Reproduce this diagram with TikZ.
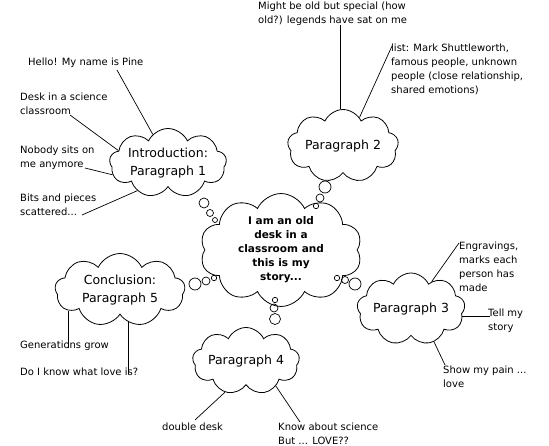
\documentclass[tikz,border=0pt]{standalone}
\usepackage{fontspec}
\setmainfont{DejaVu Sans}
\usetikzlibrary{shapes.symbols}
\begin{document}
\begin{tikzpicture}[x=1pt,y=-1pt,
  thought/.style={cloud, draw, cloud puffs=9, cloud puff arc=130, cloud ignores aspect, inner sep=0pt, align=center, line width=0.8pt, font=\fontsize{12.5}{17.5}\selectfont},
  note/.style={anchor=north west, inner sep=0pt, align=left, font=\fontsize{10}{14}\selectfont},
  link/.style={line width=0.7pt},
  bub/.style={line width=0.7pt}]
\useasboundingbox (0,0) rectangle (549,446);
% clouds
\node[thought, minimum width=117pt, minimum height=69pt] (intro) at (168,163) {Introduction:\\Paragraph 1};
\node[thought, minimum width=111pt, minimum height=73pt] (p2) at (343,146) {Paragraph 2};
\node[thought, cloud puffs=10, minimum width=162pt, minimum height=94pt, font=\bfseries\fontsize{10.5}{14}\selectfont] (center) at (281,250) {I am an old\\desk in a\\classroom and\\this is my\\story...};
\node[thought, minimum width=130pt, minimum height=73pt] (concl) at (120,290) {Conclusion:\\Paragraph 5};
\node[thought, minimum width=107pt, minimum height=67pt] (p4) at (246,361) {Paragraph 4};
\node[thought, minimum width=108pt, minimum height=72pt] (p3) at (411,309) {Paragraph 3};
% notes
\node[note] (might) at (258,2) {Might be old but special (how\\old?) legends have sat on me};
\node[note] (list) at (391,44) {list: Mark Shuttleworth,\\famous people, unknown\\people (close relationship,\\shared emotions)};
\node[note] (hello) at (28,58) {Hello! My name is Pine};
\node[note] (desk) at (20,93) {Desk in a science\\classroom};
\node[note] (nobody) at (20,146) {Nobody sits on\\me anymore};
\node[note] (bits) at (20,194) {Bits and pieces\\scattered...};
\node[note] (gen) at (20,341) {Generations grow};
\node[note] (doi) at (20,368) {Do I know what love is?};
\node[note] (double) at (162,423) {double desk};
\node[note] (know) at (278,423) {Know about science\\But ... LOVE??};
\node[note] (engr) at (459,242) {Engravings,\\marks each\\person has\\made};
\node[note] (tell) at (488,309) {Tell my\\story};
\node[note] (show) at (443,366) {Show my pain ...\\love};
% connector ends
\coordinate (m1) at (340,25);
\coordinate (l1) at (392,46);
\coordinate (h1) at (117,70);
\coordinate (de1) at (70,115);
\coordinate (n1) at (85,168);
\coordinate (b1) at (82,215);
\coordinate (g1) at (68,348);
\coordinate (d1) at (128,374);
\coordinate (dd1) at (195,420);
\coordinate (k1) at (300,422);
\coordinate (e1) at (459,243);
\coordinate (t1) at (490,316);
\coordinate (s1) at (445,365);
% connectors
\draw[link] (m1) -- (m1 |- p2.95);
\draw[link] (l1) -- (p2.60);
\draw[link] (h1) -- (intro.118);
\draw[link] (de1) -- (intro.166);
\draw[link] (n1) -- (intro.192);
\draw[link] (b1) -- (intro.222);
\draw[link] (g1) -- (g1 |- concl.208);
\draw[link] (d1) -- (d1 |- concl.283);
\draw[link] (dd1) -- (p4.236);
\draw[link] (k1) -- (p4.320);
\draw[link] (e1) -- (p3.53);
\draw[link] (t1) -- (p3.352 |- t1);
\draw[link] (s1) -- (p3.305);
% thought bubbles
\draw[bub] (204,203) circle (5pt) (210,213) circle (3.5pt) (215,220) circle (2.5pt);
\draw[bub] (325,187) circle (6pt) (320,198) circle (4pt) (316,206) circle (2.7pt);
\draw[bub] (195,284) circle (6pt) (206,281) circle (4pt) (214,278) circle (2.7pt);
\draw[bub] (337,278) circle (2.7pt) (345,280) circle (3.5pt) (355,284) circle (6pt);
\draw[bub] (275,300) circle (2.7pt) (274,308) circle (4pt) (275,319) circle (5.5pt);
\end{tikzpicture}
\end{document}
